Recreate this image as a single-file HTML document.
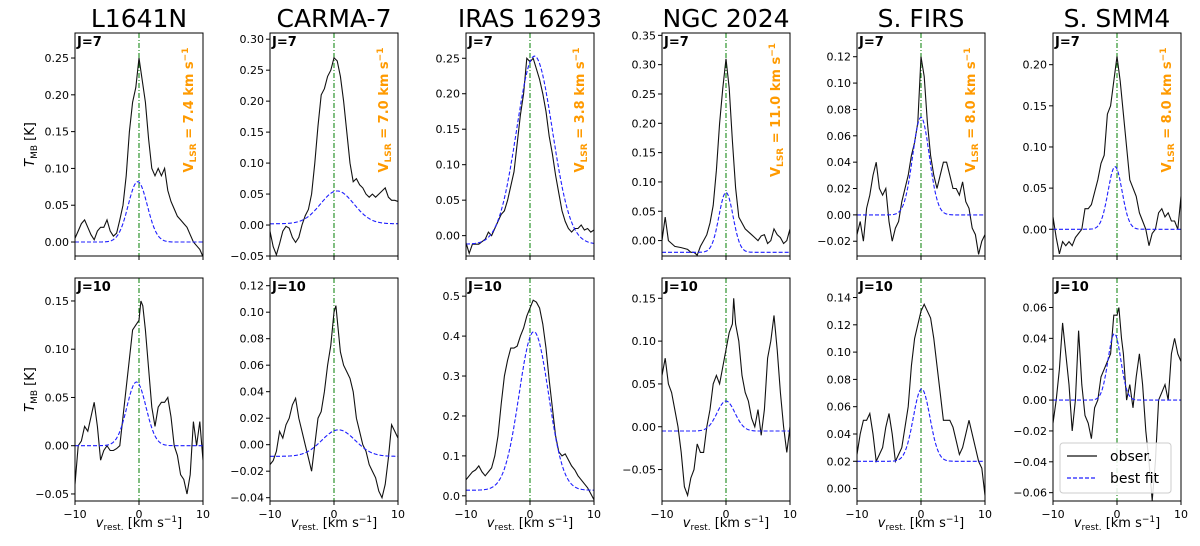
<!DOCTYPE html>
<html><head><meta charset="utf-8">
<style>
html,body{margin:0;padding:0;background:#fff;}
svg{display:block;font-family:"DejaVu Sans","Liberation Sans",sans-serif;}
</style></head>
<body>
<svg id="fig" width="1200" height="546" viewBox="0 0 1200 546"></svg>
<script>
// ---- data ----
const sources = ["L1641N","CARMA-7","IRAS 16293","NGC 2024","S. FIRS","S. SMM4"];
const vlsrLabels = ["7.4","7.0","3.8","11.0","8.0","8.0"];
const xTicks = [-10,0,10];
// y limits per panel [row][col]
const yLimJ7 = [[-0.019,0.284],[-0.05,0.31],[-0.0287,0.2856],[-0.0263,0.354],[-0.0312,0.138],[-0.0325,0.2385]];
const yLimJ10 = [[-0.0573,0.1738],[-0.0425,0.1258],[-0.013,0.5455],[-0.0867,0.1737],[-0.0091,0.1543],[-0.0654,0.0791]];
const yTicksJ7 = [
 [0,0.05,0.10,0.15,0.20,0.25],
 [-0.05,0,0.05,0.10,0.15,0.20,0.25,0.30],
 [0,0.05,0.10,0.15,0.20,0.25],
 [0,0.05,0.10,0.15,0.20,0.25,0.30,0.35],
 [-0.02,0,0.02,0.04,0.06,0.08,0.10,0.12],
 [0,0.05,0.10,0.15,0.20]];
const yTicksJ10 = [
 [-0.05,0,0.05,0.10,0.15],
 [-0.04,-0.02,0,0.02,0.04,0.06,0.08,0.10,0.12],
 [0,0.1,0.2,0.3,0.4,0.5],
 [-0.05,0,0.05,0.10,0.15],
 [0,0.02,0.04,0.06,0.08,0.10,0.12,0.14],
 [-0.06,-0.04,-0.02,0,0.02,0.04,0.06]];
const tickDecJ10 = [2,2,1,2,2,2];
// best-fit gaussian params: [baseline, amplitude, center, sigma]
const fitJ7 = [[0,0.082,-0.2,1.5],[0.002,0.053,0.5,2.6],[-0.012,0.265,0.7,2.8],[-0.02,0.102,0,1.1],[0,0.074,0,1.3],[0,0.076,-0.3,1.1]];
const fitJ10 = [[0,0.066,-0.4,1.5],[-0.0088,0.020,0.7,2.6],[0.014,0.397,0.6,2.3],[-0.005,0.035,0,1.4],[0.02,0.053,0.1,1.3],[0,0.043,-0.4,1.0]];
// observed spectra [v, T]
const obsJ7_L1641N = [[-10,0.005],[-9.5,0.015],[-9,0.025],[-8.5,0.03],[-8,0.02],[-7.5,0.01],[-7,0.003],[-6.5,0.015],[-6,0.02],[-5.5,0.02],[-5,0.03],[-4.5,0.015],[-4,0.008],[-3.5,0.012],[-3,0.03],[-2.5,0.05],[-2,0.09],[-1.5,0.15],[-1,0.19],[-0.5,0.21],[0,0.25],[0.5,0.22],[1,0.19],[1.5,0.14],[2,0.10],[2.5,0.09],[3,0.10],[3.5,0.09],[4,0.10],[4.5,0.07],[5,0.055],[5.5,0.045],[6,0.035],[6.5,0.03],[7,0.025],[7.5,0.02],[8,0.01],[8.5,0],[9,-0.005],[9.5,-0.01],[10,-0.02]];
const obsJ7_CARMA7 = [[-10,-0.01],[-9.5,-0.035],[-9,-0.048],[-8.5,-0.03],[-8,-0.01],[-7.5,-0.002],[-7,-0.005],[-6.5,-0.02],[-6,-0.028],[-5.5,-0.02],[-5,0],[-4.5,0.015],[-4,0.025],[-3.5,0.05],[-3,0.10],[-2.5,0.16],[-2,0.21],[-1.5,0.22],[-1,0.24],[-0.5,0.25],[0,0.27],[0.5,0.265],[1,0.24],[1.5,0.2],[2,0.15],[2.5,0.1],[3,0.07],[3.5,0.075],[4,0.065],[4.5,0.06],[5,0.05],[5.5,0.045],[6,0.05],[6.5,0.045],[7,0.05],[7.5,0.055],[8,0.06],[8.5,0.045],[9,0.04],[9.5,0.04],[10,0.038]];
const obsJ7_IRAS = [[-10,-0.01],[-9.5,-0.025],[-9,-0.012],[-8,-0.012],[-7,-0.005],[-6.5,0.005],[-6,0.0],[-5.5,0.01],[-5,0.02],[-4.5,0.03],[-4,0.035],[-3.5,0.05],[-3,0.07],[-2.5,0.09],[-2,0.13],[-1.5,0.17],[-1,0.2],[-0.5,0.25],[0,0.245],[0.5,0.25],[1,0.235],[1.5,0.22],[2,0.2],[2.5,0.175],[3,0.14],[3.5,0.115],[4,0.085],[4.5,0.06],[5,0.035],[5.5,0.02],[6,0.01],[6.5,0.005],[7,0.01],[7.5,0.01],[8,0.015],[8.5,0.008],[9,0.01],[9.5,0.005],[10,0.008]];
const obsJ7_NGC2024 = [[-10,0.0],[-9.5,0.04],[-9,0.0],[-8.5,-0.005],[-8,-0.01],[-7,-0.012],[-6,-0.015],[-5.5,-0.02],[-5,-0.02],[-4.5,-0.025],[-4,-0.01],[-3.5,0.0],[-3,0.01],[-2.5,0.03],[-2,0.06],[-1.5,0.12],[-1,0.2],[-0.5,0.26],[0,0.31],[0.5,0.26],[1,0.17],[1.5,0.09],[2,0.04],[2.5,0.03],[3,0.02],[3.5,0.015],[4,0.01],[4.5,0.005],[5,0.0],[5.5,0.008],[6,0.01],[6.5,-0.005],[7,0.0],[7.5,0.02],[8,0.01],[8.5,0.005],[9,-0.005],[9.5,0.0],[10,0.02]];
const obsJ7_SFIRS = [[-10,-0.015],[-9.5,-0.005],[-9,-0.02],[-8.5,0.005],[-8,0.015],[-7.5,0.03],[-7,0.04],[-6.5,0.02],[-6,0.015],[-5.5,0.02],[-5,-0.005],[-4.5,-0.02],[-4,-0.01],[-3.5,-0.005],[-3,0.01],[-2.5,0.02],[-2,0.03],[-1.5,0.045],[-1,0.055],[-0.5,0.07],[0,0.12],[0.5,0.105],[1,0.07],[1.5,0.045],[2,0.03],[2.5,0.02],[3,0.03],[3.5,0.04],[4,0.04],[4.5,0.03],[5,0.02],[5.5,0.02],[6,0.015],[6.5,0.025],[7,0.01],[7.5,0.005],[8,-0.01],[8.5,-0.015],[9,-0.03],[9.5,-0.02],[10,-0.015]];
const obsJ7_SSMM4 = [[-10,0.015],[-9.5,-0.01],[-9,-0.03],[-8.5,-0.015],[-8,-0.02],[-7.5,-0.015],[-7,-0.02],[-6.5,-0.01],[-6,-0.005],[-5.5,0.0],[-5,0.025],[-4.5,0.025],[-4,0.03],[-3.5,0.045],[-3,0.06],[-2.5,0.08],[-2,0.09],[-1.5,0.14],[-1,0.15],[-0.5,0.18],[0,0.21],[0.5,0.18],[1,0.14],[1.5,0.1],[2,0.06],[2.5,0.05],[3,0.04],[3.5,0.02],[4,0.01],[4.5,0.0],[5,-0.02],[5.5,-0.005],[6,0.0],[6.5,0.02],[7,0.025],[7.5,0.015],[8,0.02],[8.5,0.01],[9,0.01],[9.5,0.0],[10,0.04]];
const obsJ10_L1641N = [[-10,-0.04],[-9.5,0.0],[-9,0.005],[-8.5,0.02],[-8,0.015],[-7.5,0.03],[-7,0.045],[-6.5,0.02],[-6,-0.015],[-5.5,-0.005],[-5,0.0],[-4.5,-0.005],[-4,-0.005],[-3.5,-0.003],[-3,0.0],[-2.5,0.03],[-2,0.06],[-1.5,0.09],[-1,0.12],[-0.5,0.125],[0,0.13],[0.3,0.15],[0.6,0.145],[1,0.12],[1.5,0.08],[2,0.04],[2.5,0.02],[3,0.04],[3.5,0.045],[4,0.045],[4.5,0.05],[5,0.03],[5.5,0.0],[6,-0.01],[6.5,-0.03],[7,-0.035],[7.5,-0.05],[8,-0.03],[8.5,0.025],[9,0.0],[9.5,0.025],[10,-0.015]];
const obsJ10_CARMA7 = [[-10,-0.015],[-9.5,-0.012],[-9,-0.005],[-8.5,0.01],[-8,0.005],[-7.5,0.015],[-7,0.02],[-6.5,0.03],[-6,0.035],[-5.5,0.02],[-5,0.01],[-4.5,0.0],[-4,-0.01],[-3.5,-0.02],[-3,0.0],[-2.5,0.02],[-2,0.025],[-1.5,0.04],[-1,0.06],[-0.5,0.075],[0,0.1],[0.3,0.105],[0.6,0.09],[1,0.07],[1.5,0.06],[2,0.055],[2.5,0.05],[3,0.04],[3.5,0.02],[4,0.01],[4.5,0.0],[5,-0.005],[5.5,-0.015],[6,-0.02],[6.5,-0.025],[7,-0.035],[7.5,-0.04],[8,-0.03],[8.5,-0.01],[9,0.015],[9.5,0.01],[10,0.005]];
const obsJ10_IRAS = [[-10,0.04],[-9.5,0.05],[-9,0.06],[-8.5,0.065],[-8,0.075],[-7.5,0.06],[-7,0.05],[-6.5,0.06],[-6,0.07],[-5.5,0.1],[-5,0.15],[-4.5,0.23],[-4,0.3],[-3.5,0.34],[-3,0.37],[-2.5,0.37],[-2,0.375],[-1.5,0.4],[-1,0.42],[-0.5,0.45],[0,0.47],[0.5,0.49],[1,0.485],[1.5,0.47],[2,0.43],[2.5,0.37],[3,0.29],[3.5,0.22],[4,0.15],[4.5,0.11],[5,0.1],[5.5,0.105],[6,0.09],[6.5,0.075],[7,0.065],[7.5,0.05],[8,0.04],[8.5,0.03],[9,0.02],[9.5,0.005],[10,-0.01]];
const obsJ10_NGC2024 = [[-10,0.06],[-9.5,0.08],[-9,0.05],[-8.5,0.04],[-8,0.02],[-7.5,0.0],[-7,-0.03],[-6.5,-0.07],[-6,-0.08],[-5.5,-0.06],[-5,-0.05],[-4.5,-0.02],[-4,-0.03],[-3.5,-0.03],[-3,0.0],[-2.5,0.02],[-2,0.05],[-1.5,0.06],[-1,0.05],[-0.5,0.07],[0,0.09],[0.5,0.11],[1,0.12],[1.2,0.15],[1.5,0.12],[2,0.1],[2.5,0.06],[3,0.04],[3.5,0.03],[4,0.01],[4.5,0.0],[5,0.02],[5.5,-0.01],[6,0.02],[6.5,0.08],[7,0.1],[7.5,0.13],[8,0.09],[8.5,0.04],[9,0.0],[9.5,-0.03],[10,0.0]];
const obsJ10_SFIRS = [[-10,0.025],[-9.5,0.04],[-9,0.05],[-8.5,0.05],[-8,0.055],[-7.5,0.04],[-7,0.02],[-6.5,0.025],[-6,0.03],[-5.5,0.045],[-5,0.055],[-4.5,0.04],[-4,0.02],[-3.5,0.025],[-3,0.03],[-2.5,0.045],[-2,0.06],[-1.5,0.09],[-1,0.11],[-0.5,0.12],[0,0.13],[0.5,0.135],[1,0.13],[1.5,0.125],[2,0.11],[2.5,0.09],[3,0.07],[3.5,0.05],[4,0.05],[4.5,0.05],[5,0.045],[5.5,0.035],[6,0.025],[6.5,0.03],[7,0.04],[7.5,0.05],[8,0.04],[8.5,0.03],[9,0.02],[9.5,0.015],[10,-0.005]];
const obsJ10_SSMM4 = [[-10,-0.015],[-9.5,0.0],[-9,0.02],[-8.5,0.05],[-8,0.03],[-7.5,0.01],[-7,-0.02],[-6.5,0.0],[-6,0.045],[-5.5,0.01],[-5,-0.01],[-4.5,-0.015],[-4,-0.025],[-3.5,-0.005],[-3,0.0],[-2.5,0.015],[-2,0.02],[-1.5,0.025],[-1,0.03],[-0.5,0.055],[0,0.055],[0.3,0.06],[0.7,0.04],[1,0.03],[1.5,0.0],[2,0.01],[2.5,-0.005],[3,0.015],[3.5,0.03],[4,0.01],[4.5,-0.02],[5,-0.04],[5.5,-0.065],[6,-0.04],[6.5,0.0],[7,0.005],[7.5,0.01],[8,0.0],[8.5,0.03],[9,0.04],[9.5,0.03],[10,0.025]];
const obsJ7 = [obsJ7_L1641N,obsJ7_CARMA7,obsJ7_IRAS,obsJ7_NGC2024,obsJ7_SFIRS,obsJ7_SSMM4];
const obsJ10 = [obsJ10_L1641N,obsJ10_CARMA7,obsJ10_IRAS,obsJ10_NGC2024,obsJ10_SFIRS,obsJ10_SSMM4];

// ---- layout ----
const NS = "http://www.w3.org/2000/svg";
const svg = document.getElementById("fig");
const colX = [75,270,466,662,857,1053];
const PW = 128;
const rowY = [[33,256],[278,501]];
function mk(tag, attrs, parent){
  const e = document.createElementNS(NS, tag);
  for (const k in attrs) e.setAttribute(k, attrs[k]);
  (parent||svg).appendChild(e);
  return e;
}
function fmt(v, d){ const s = Math.abs(v).toFixed(d); return (v < -1e-9 ? "\u2212" : "") + s; }

function panel(row, col){
  const x0 = colX[col], x1 = x0 + PW;
  const [yT, yB] = rowY[row];
  const lim = row === 0 ? yLimJ7[col] : yLimJ10[col];
  const ticks = row === 0 ? yTicksJ7[col] : yTicksJ10[col];
  const dec = row === 0 ? 2 : tickDecJ10[col];
  const fit = row === 0 ? fitJ7[col] : fitJ10[col];
  const obs = row === 0 ? obsJ7[col] : obsJ10[col];
  const sx = v => x0 + (v + 10) / 20 * PW;
  const sy = t => yB - (t - lim[0]) / (lim[1] - lim[0]) * (yB - yT);
  const g = mk("g", {});
  
  
  const clipId = "c" + row + "_" + col;
  const cp = mk("clipPath", {id: clipId}, g);
  mk("rect", {x: x0, y: yT, width: PW, height: yB - yT}, cp);
  // green vlsr line
  const vl = mk("line", {x1: sx(0), x2: sx(0), y1: yT, y2: yB, stroke: "#1a8a1a", "stroke-width": 1.1, "stroke-dasharray": "5,2,1,2"}, g);
  
  
  // observed
  const op = mk("polyline", {points: obs.map(p => sx(p[0]).toFixed(1) + "," + sy(p[1]).toFixed(1)).join(" "), fill: "none", stroke: "#111", "stroke-width": 1.1, "clip-path": "url(#" + clipId + ")"}, g);
  
  
  // fit
  const pts = [];
  for (let i = 0; i <= 200; i++) {
    const v = -10 + i * 0.1;
    const t = fit[0] + fit[1] * Math.exp(-0.5 * Math.pow((v - fit[2]) / fit[3], 2));
    pts.push(sx(v).toFixed(1) + "," + sy(t).toFixed(1));
  }
  const fp = mk("polyline", {points: pts.join(" "), fill: "none", stroke: "#1f1fff", "stroke-width": 1.1, "stroke-dasharray": "4,2", "clip-path": "url(#" + clipId + ")"}, g);
  
  
  // frame
  const fr = mk("rect", {x: x0, y: yT, width: PW, height: yB - yT, fill: "none", stroke: "#000", "stroke-width": 1}, g);
  
  
  // y ticks
  ticks.forEach(t => {
    const y = sy(t);
    mk("line", {x1: x0 - 4, x2: x0, y1: y, y2: y, stroke: "#000", "stroke-width": 1}, g);
    const tl = mk("text", {x: x0 - 6, y: y + 4, "font-size": 11, "text-anchor": "end", fill: "#000"}, g);
    tl.textContent = fmt(t, dec);
    
    
  });
  // x ticks
  xTicks.forEach(v => {
    const x = sx(v);
    mk("line", {x1: x, x2: x, y1: yB, y2: yB + 4, stroke: "#000", "stroke-width": 1}, g);
    if (row === 1) {
      const xl = mk("text", {x: x, y: yB + 17, "font-size": 11, "text-anchor": "middle", fill: "#000"}, g);
      xl.textContent = fmt(v, 0);
      
      
    }
  });
  // J label
  const jl = mk("text", {x: x0 + 2, y: yT + 13, "font-size": 13, "font-weight": "bold", fill: "#000"}, g);
  jl.textContent = row === 0 ? "J=7" : "J=10";
  
  
  if (row === 0) {
    const tx = x1 - 10, ty = 110;
    const vt = mk("text", {x: tx, y: ty, "font-size": 13, "font-weight": "bold", fill: "#ff9a00", "text-anchor": "middle", transform: "rotate(-90 " + tx + " " + ty + ")"}, g);
    vt.innerHTML = 'V<tspan font-size="9" dy="3">LSR</tspan><tspan dy="-3"> = ' + vlsrLabels[col] + ' km s</tspan><tspan font-size="9" dy="-5">\u22121</tspan>';
    
    
    const ti = mk("text", {x: (x0 + x1) / 2, y: 27, "font-size": 25, "text-anchor": "middle", fill: "#000"}, g);
    ti.textContent = sources[col];
    
    
  } else {
    const xl = mk("text", {x: (x0 + x1) / 2, y: 527, "font-size": 13, "text-anchor": "middle", fill: "#000"}, g);
    xl.innerHTML = '<tspan font-style="italic">v</tspan><tspan font-size="9" dy="3">rest.</tspan><tspan dy="-3"> [km s</tspan><tspan font-size="9" dy="-5">\u22121</tspan><tspan dy="5">]</tspan>';
    
    
  }
  if (col === 0) {
    const cy = (yT + yB) / 2, cx = 34;
    const yl = mk("text", {x: cx, y: cy, "font-size": 13, "text-anchor": "middle", fill: "#000", transform: "rotate(-90 " + cx + " " + cy + ")"}, g);
    yl.innerHTML = '<tspan font-style="italic">T</tspan><tspan font-size="9" dy="3">MB</tspan><tspan dy="-3"> [K]</tspan>';
    
    
  }
}
for (let r = 0; r < 2; r++) for (let c = 0; c < 6; c++) panel(r, c);

// legend
const lg = mk("g", {});


mk("rect", {x: 1060, y: 443, width: 111, height: 50, rx: 3, fill: "#fff", "fill-opacity": 0.85, stroke: "#ccc"}, lg);
const l1 = mk("line", {x1: 1067, x2: 1097, y1: 456, y2: 456, stroke: "#111", "stroke-width": 1.2}, lg);


const t1 = mk("text", {x: 1110, y: 461, "font-size": 14, fill: "#000"}, lg);
t1.textContent = "obser.";


const l2 = mk("line", {x1: 1067, x2: 1097, y1: 478, y2: 478, stroke: "#1f1fff", "stroke-width": 1.2, "stroke-dasharray": "4,2"}, lg);


const t2 = mk("text", {x: 1110, y: 483, "font-size": 14, fill: "#000"}, lg);
t2.textContent = "best fit";


</script>
</body></html>
